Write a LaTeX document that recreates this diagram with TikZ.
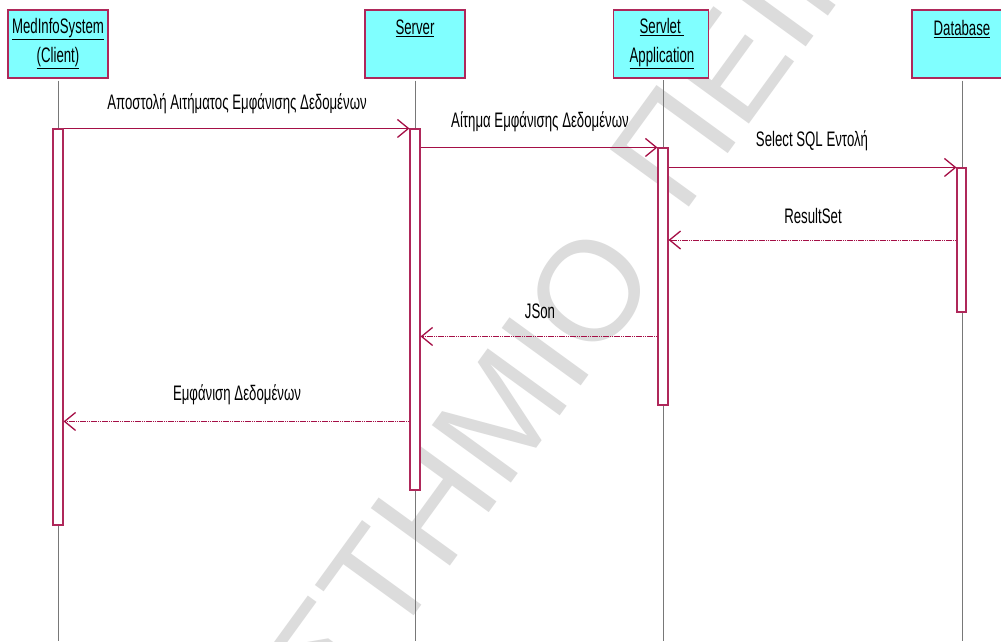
\documentclass[tikz,border=0pt]{standalone}
\usepackage{fontspec}
\setmainfont{Liberation Sans}[FakeStretch=0.63]
\newfontfamily\wmfont{Liberation Sans}
\usetikzlibrary{arrows.meta,calc}
\definecolor{boxfill}{HTML}{80FFFF}
\definecolor{edgec}{RGB}{175,40,90}
\definecolor{msgc}{RGB}{165,15,70}
\definecolor{wmc}{RGB}{220,220,220}
\definecolor{lifec}{RGB}{120,120,120}
\begin{document}
\begin{tikzpicture}[x=1pt,y=-1pt,
  objbox/.style={draw=edgec,line width=1.2pt,fill=boxfill,minimum height=68pt,inner sep=0pt},
  objlabel/.style={anchor=north,align=center,inner sep=0pt,font=\fontsize{21}{29}\selectfont},
  actbar/.style={draw=edgec,line width=1.1pt,fill=white,minimum width=10pt,inner sep=0pt},
  lifeline/.style={draw=lifec,line width=0.9pt},
  msgline/.style={draw=msgc,line width=1.3pt,-{Straight Barb[length=11pt,width=18pt,line width=1.3pt]}},
  retline/.style={msgline,line width=1pt,dash pattern=on 1.6pt off 0.6pt},
  wmtext/.style={rotate=54,inner sep=0pt,text=wmc,font=\wmfont\fontsize{142}{142}\selectfont},
  msglabel/.style={inner sep=0pt,font=\fontsize{21}{24}\selectfont}]
\clip (0,0) rectangle (1001,641);
\fill[white] (0,0) rectangle (1001,641);
% watermark
\node[wmtext,anchor=base east] (wm1) at (662,275) {ΠΑΝΕΠΙΣΤΗΜΙΟ};
\node[wmtext,anchor=base west] (wm2) at (682,217) {ΠΕΙΡΑΙΩΣ};
% boxes
\node[objbox,minimum width=100pt] (client) at (58,44) {};
\node[objbox,minimum width=100pt] (server) at (415,44) {};
\node[objbox,minimum width=95pt] (servlet) at (661,44) {};
\node[objbox,minimum width=100pt] (db) at (962,44) {};
\node[objlabel] (clientL) at (58,18) {\underline{MedInfoSystem}\\\underline{(Client)}};
\node[objlabel] (serverL) at (415,20) {\underline{Server}};
\node[objlabel] (servletL) at (662,18) {\underline{Servlet\ }\\\underline{Application}};
\node[objlabel] (dbL) at (962,20) {\underline{Database}};
% lifelines
\coordinate (clientB) at (58,641);
\coordinate (serverB) at (415,641);
\coordinate (servletT) at (663,80);
\coordinate (servletB) at (663,641);
\coordinate (dbB) at (962,641);
\draw[lifeline] ([yshift=-2pt]client.south) -- (clientB);
\draw[lifeline] ([yshift=-2pt]server.south) -- (serverB);
\draw[lifeline] (servletT) -- (servletB);
\draw[lifeline] ([yshift=-2pt]db.south) -- (dbB);
% activation bars
\node[actbar,minimum height=396pt] (cbar) at (58,327) {};
\node[actbar,minimum height=361pt] (sbar) at (415,309.5) {};
\node[actbar,minimum height=257pt] (vbar) at (663,276.5) {};
\node[actbar,minimum width=9pt,minimum height=144pt] (dbar) at (961.5,240) {};
% messages
\draw[msgline] (cbar.north east) -- (sbar.north west);
\draw[msgline] (sbar.east |- vbar.north) -- (vbar.north west);
\draw[msgline] (vbar.east |- dbar.north) -- (dbar.north west);
\draw[retline] (dbar.west) -- (vbar.east |- dbar.west);
\coordinate (jsonY) at ($(vbar.north west)+(0,189)$);
\draw[retline] (jsonY) -- (sbar.east |- jsonY);
\coordinate (showY) at ($(sbar.north west)+(0,293)$);
\draw[retline] (showY) -- (cbar.east |- showY);
% labels
\node[msglabel] (m1) at (237,104) {Αποστολή Αιτήματος Εμφάνισης Δεδομένων};
\node[msglabel] (m2) at (540,122) {Αίτημα Εμφάνισης Δεδομένων};
\node[msglabel] (m3) at (812,141) {Select SQL Εντολή};
\node[msglabel] (m4) at (813,216) {ResultSet};
\node[msglabel] (m5) at (540,311) {JSon};
\node[msglabel] (m6) at (237,395) {Εμφάνιση Δεδομένων};
\end{tikzpicture}
\end{document}
